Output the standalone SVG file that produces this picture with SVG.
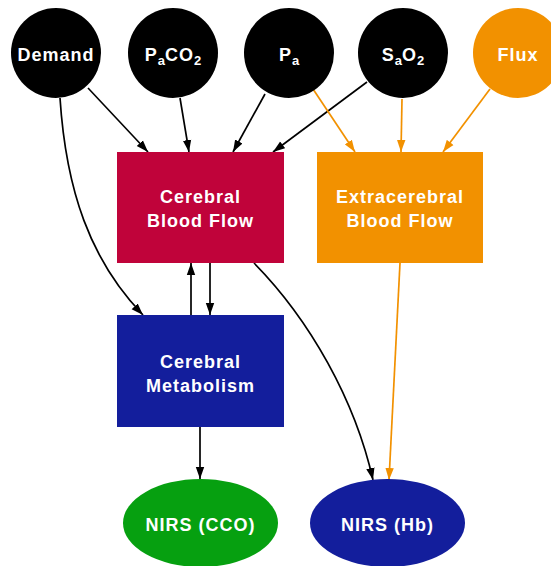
<svg xmlns="http://www.w3.org/2000/svg" width="551" height="566" viewBox="0 0 551 566">
  <defs>
    <style>
      .lbl { font-family: "Liberation Sans", Arial, sans-serif; font-weight: bold; font-size: 18px; letter-spacing: 1px; fill: #ffffff; text-anchor: middle; }
      .sub { font-size: 13px; letter-spacing: 0; }
      .edge { fill: none; stroke-width: 1.7; }
      .blk { stroke: #000000; }
      .org { stroke: #F29100; }
    </style>
    <marker id="ah-black" viewBox="0 0 12 10" refX="12" refY="5" markerWidth="12" markerHeight="10" markerUnits="userSpaceOnUse" orient="auto">
      <path d="M0,0.8 L12,5 L0,9.2 Z" fill="#000000"/>
    </marker>
    <marker id="ah-orange" viewBox="0 0 12 10" refX="12" refY="5" markerWidth="12" markerHeight="10" markerUnits="userSpaceOnUse" orient="auto">
      <path d="M0,0.8 L12,5 L0,9.2 Z" fill="#F29100"/>
    </marker>
  </defs>

  <rect width="551" height="566" fill="#ffffff"/>

  <!-- connectors -->
  <g id="edges">
    <line class="edge blk" x1="88" y1="88" x2="148" y2="152" marker-end="url(#ah-black)"/>
    <line class="edge blk" x1="180" y1="98" x2="189" y2="152" marker-end="url(#ah-black)"/>
    <line class="edge blk" x1="265" y1="94" x2="233" y2="152" marker-end="url(#ah-black)"/>
    <line class="edge blk" x1="367" y1="82" x2="273" y2="152" marker-end="url(#ah-black)"/>
    <line class="edge org" x1="313" y1="89" x2="355" y2="152" marker-end="url(#ah-orange)"/>
    <line class="edge org" x1="402" y1="99" x2="401" y2="152" marker-end="url(#ah-orange)"/>
    <line class="edge org" x1="490" y1="89" x2="443" y2="152" marker-end="url(#ah-orange)"/>
    <path class="edge blk" d="M60,98 C66,190 90,260 143,315" marker-end="url(#ah-black)"/>
    <line class="edge blk" x1="191" y1="315" x2="191" y2="263" marker-end="url(#ah-black)"/>
    <line class="edge blk" x1="210" y1="263" x2="210" y2="315" marker-end="url(#ah-black)"/>
    <path class="edge blk" d="M254,263 C310,320 355,400 373,480" marker-end="url(#ah-black)"/>
    <line class="edge org" x1="400" y1="263" x2="389" y2="480" marker-end="url(#ah-orange)"/>
    <line class="edge blk" x1="200" y1="427" x2="200" y2="479" marker-end="url(#ah-black)"/>
  </g>

  <!-- input nodes -->
  <g id="demand">
    <circle cx="56" cy="53" r="45" fill="#000000"/>
    <text class="lbl" x="56" y="61">Demand</text>
  </g>
  <g id="paco2">
    <circle cx="173" cy="53" r="45" fill="#000000"/>
    <text class="lbl" x="173" y="61">P<tspan class="sub" dy="4">a</tspan><tspan dy="-4">CO</tspan><tspan class="sub" dy="4">2</tspan></text>
  </g>
  <g id="pa">
    <circle cx="289" cy="53" r="45" fill="#000000"/>
    <text class="lbl" x="289" y="61">P<tspan class="sub" dy="4">a</tspan></text>
  </g>
  <g id="sao2">
    <circle cx="403" cy="53" r="45" fill="#000000"/>
    <text class="lbl" x="403" y="61">S<tspan class="sub" dy="4">a</tspan><tspan dy="-4">O</tspan><tspan class="sub" dy="4">2</tspan></text>
  </g>
  <g id="flux">
    <circle cx="518" cy="53" r="45" fill="#F29100"/>
    <text class="lbl" x="518" y="61">Flux</text>
  </g>

  <!-- process nodes -->
  <g id="cbf">
    <rect x="117" y="152" width="167" height="111" fill="#C0033A"/>
    <text class="lbl" x="200.5" y="203">Cerebral</text>
    <text class="lbl" x="200.5" y="227">Blood Flow</text>
  </g>
  <g id="ecbf">
    <rect x="317" y="152" width="166" height="111" fill="#F29100"/>
    <text class="lbl" x="400" y="203">Extracerebral</text>
    <text class="lbl" x="400" y="227">Blood Flow</text>
  </g>
  <g id="metabolism">
    <rect x="117" y="315" width="167" height="112" fill="#131E9C"/>
    <text class="lbl" x="200.5" y="368">Cerebral</text>
    <text class="lbl" x="200.5" y="392">Metabolism</text>
  </g>

  <!-- measurements -->
  <g id="nirs-cco">
    <ellipse cx="200.5" cy="523" rx="77.5" ry="44" fill="#06A010"/>
    <text class="lbl" x="200.5" y="531">NIRS (CCO)</text>
  </g>
  <g id="nirs-hb">
    <ellipse cx="387.5" cy="523" rx="77.5" ry="44" fill="#131E9C"/>
    <text class="lbl" x="387.5" y="531">NIRS (Hb)</text>
  </g>
</svg>
